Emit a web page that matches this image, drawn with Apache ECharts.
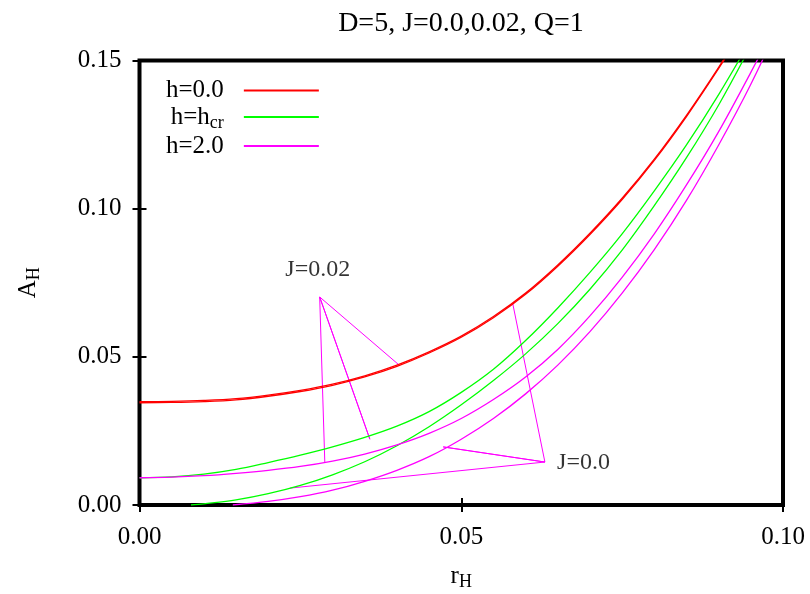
<!DOCTYPE html>
<html>
<head>
<meta charset="utf-8">
<script src="https://cdn.jsdelivr.net/npm/echarts@6/dist/echarts.min.js"></script>
<style>html,body{margin:0;padding:0;background:#fff}#c{width:810px;height:594px}</style>
</head>
<body>
<div id="c"></div>
<script>
const titleText = 'D=5, J=0.0,0.02, Q=1';
const xTicks = [0, 0.05, 0.10];
const yTicks = [0, 0.05, 0.10, 0.15];
const legendNames = ['h=0.0', 'h=h_cr', 'h=2.0'];

const rGrid = [0,0.005,0.01,0.015,0.02,0.025,0.03,0.035,0.04,0.045,0.05,0.055,0.06,0.065,0.07,0.075,0.08,0.085,0.09,0.095];
const redJ002 = [0.0349,0.0350,0.0353,0.0359,0.0371,0.0387,0.0408,0.0436,0.0472,0.0517,0.0570,0.0636,0.0715,0.0810,0.0917,0.1035,0.1167,0.1315,0.1477,0.1650];
const redJ0   = [0.0345,0.0346,0.0349,0.0355,0.0367,0.0383,0.0404,0.0432,0.0468,0.0513,0.0566,0.0632,0.0711,0.0806,0.0913,0.1031,0.1163,0.1311,0.1473,0.1646];
const greenJ002 = [0.0092,0.0095,0.0104,0.0120,0.0143,0.0168,0.0196,0.0228,0.0266,0.0315,0.0380,0.0458,0.0555,0.0665,0.0785,0.0915,0.1060,0.1215,0.1385,0.1570];
const greenJ0R = [0.008,0.01,0.015,0.02,0.025,0.03,0.035,0.04,0.045,0.05,0.055,0.06,0.065,0.07,0.075,0.08,0.085,0.09,0.095];
const greenJ0  = [0,0.0004,0.0017,0.0038,0.0066,0.0102,0.0146,0.0200,0.0264,0.0338,0.0420,0.0510,0.0612,0.0728,0.0860,0.1010,0.1172,0.1350,0.1550];
const magJ002R = [0,0.005,0.01,0.015,0.02,0.025,0.03,0.035,0.04,0.045,0.05,0.055,0.06,0.065,0.07,0.075,0.08,0.085,0.09,0.095,0.1];
const magJ002  = [0.0092,0.0094,0.0099,0.0107,0.0117,0.0130,0.0148,0.0172,0.0203,0.0242,0.0292,0.0356,0.0432,0.0525,0.0638,0.0768,0.0915,0.1080,0.1260,0.1460,0.1670];
const magJ0R = [0.0145,0.02,0.025,0.03,0.035,0.04,0.045,0.05,0.055,0.06,0.065,0.07,0.075,0.08,0.085,0.09,0.095,0.1];
const magJ0  = [0,0.0012,0.0028,0.0050,0.0080,0.0117,0.0163,0.0222,0.0292,0.0375,0.0472,0.0585,0.0715,0.0862,0.1028,0.1215,0.1420,0.1650];

// annotation pointers (data units): apex then targets
const annJ002Apex = [0.0280, 0.0702];
const annJ002Targets = [[0.0288,0.0142],[0.0358,0.0222],[0.0402,0.0475]];
const annJ0Apex = [0.0630, 0.0145];
const annJ0Targets = [[0.0580,0.0680],[0.0472,0.0196],[0.0234,0.0057]];
const annLabels = [{text:'J=0.02', pos:[0.0277,0.0793]}, {text:'J=0.0', pos:[0.0690,0.0142]}];

const FONT = 'Liberation Serif';
const pair = (xs, ys) => xs.map((x, i) => [x, ys[i]]);
const star = (apex, targets) => { const d = []; targets.forEach((t, i) => { if (i) d.push(apex); d.push(t); if (i === 0) d.push(apex); }); return d; };

function curve(name, color, xs, ys) {
  return { name, type: 'line', data: pair(xs, ys), showSymbol: false, symbol: 'none',
    smooth: 0.35, clip: true, lineStyle: { color, width: 1.3 }, itemStyle: { color }, z: 3, silent: true };
}

const chart = echarts.init(document.getElementById('c'), null, { renderer: 'canvas' });
const sub = { fontFamily: FONT, fontSize: 18, color: '#000', padding: [12, 0, 0, 0] };
const base = { fontFamily: FONT, fontSize: 25, color: '#000' };

const axisCommon = {
  type: 'value', min: 0, interval: 0.05,
  axisLine: { show: false },
  splitLine: { show: false },
  axisTick: { inside: true, length: 7, lineStyle: { color: '#000', width: 2 } }
};

chart.setOption({
  animation: false,
  backgroundColor: '#fff',
  title: { text: titleText, left: 456, top: 5, textAlign: 'center',
    textStyle: { fontFamily: FONT, fontSize: 28, fontWeight: 'normal', color: '#000' } },
  grid: { left: 139.5, top: 60.5, width: 643.5, height: 444.5, show: true, borderColor: '#000', borderWidth: 4,
    backgroundColor: 'transparent', containLabel: false, outerBoundsMode: 'none' },
  legend: {
    data: legendNames, orient: 'vertical', left: 161, top: 73, align: 'right', itemWidth: 75, itemHeight: 2, itemGap: 1.5,
    icon: 'rect', selectedMode: false,
    formatter: n => n === 'h=h_cr' ? 'h=h{s|cr}' : n,
    textStyle: Object.assign({}, base, { padding: [0, 15, 0, 0], rich: { s: sub } })
  },
  xAxis: [
    Object.assign({}, axisCommon, { max: 0.1, position: 'bottom',
      axisLabel: { margin: 20, fontFamily: FONT, fontSize: 25, color: '#000', formatter: v => v.toFixed(2) },
      name: 'r{s|H}', nameLocation: 'middle', nameGap: 56,
      nameTextStyle: Object.assign({}, base, { rich: { s: sub } }) }),
    Object.assign({}, axisCommon, { max: 0.1, position: 'top', axisLabel: { show: false } })
  ],
  yAxis: [
    Object.assign({}, axisCommon, { max: 0.15, position: 'left',
      axisLabel: { margin: 18, fontFamily: FONT, fontSize: 25, color: '#000', formatter: v => v.toFixed(2) },
      name: 'A{s|H}', nameLocation: 'middle', nameGap: 96, nameRotate: 90,
      nameTextStyle: Object.assign({}, base, { rich: { s: sub } }) }),
    Object.assign({}, axisCommon, { max: 0.15, position: 'right', axisLabel: { show: false } })
  ],
  series: [
    curve('h=0.0', '#ff0000', rGrid, redJ002),
    curve('h=0.0', '#ff0000', rGrid, redJ0),
    curve('h=h_cr', '#00ff00', rGrid, greenJ002),
    curve('h=h_cr', '#00ff00', greenJ0R, greenJ0),
    curve('h=2.0', '#ff00ff', magJ002R, magJ002),
    curve('h=2.0', '#ff00ff', magJ0R, magJ0),
    { type: 'line', data: star(annJ002Apex, annJ002Targets), symbol: 'none', lineStyle: { color: '#ff00ff', width: 1 }, silent: true, z: 2 },
    { type: 'line', data: star(annJ0Apex, annJ0Targets), symbol: 'none', lineStyle: { color: '#ff00ff', width: 1 }, silent: true, z: 2 },
    { type: 'scatter', symbolSize: 0, silent: true, z: 4,
      data: annLabels.map(a => ({ value: a.pos, name: a.text })),
      label: { show: true, position: 'inside', formatter: p => p.name, fontFamily: FONT, fontSize: 24, color: '#000' } }
  ]
});
</script>
</body>
</html>
